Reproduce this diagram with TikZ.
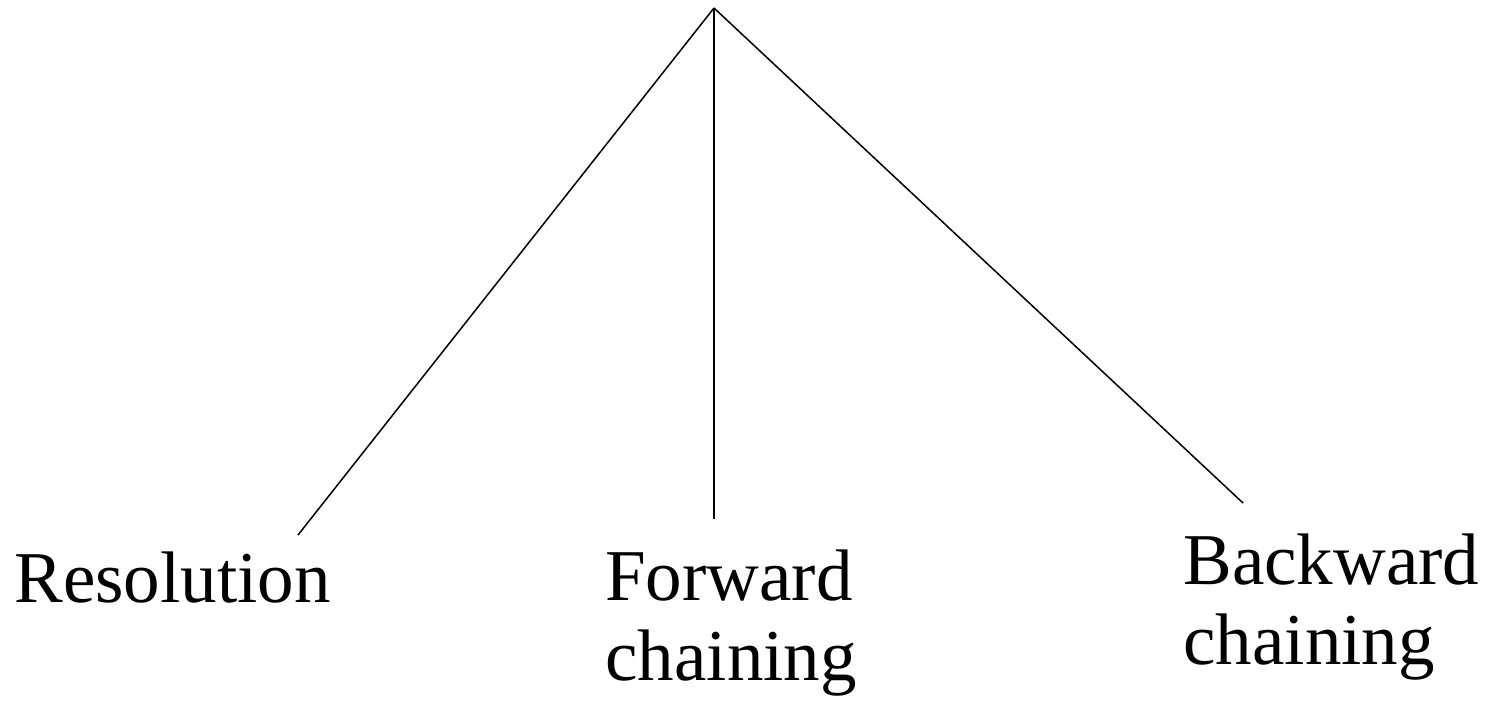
\documentclass[tikz,border=0pt]{standalone}
\usepackage{fontspec}
\setmainfont{Liberation Serif}
\tikzset{branch/.style={line width=0.75pt,black},
lab/.style={font=\fontsize{36.5}{40}\selectfont,inner sep=0pt,align=left}}
\begin{document}
\begin{tikzpicture}[x=0.5pt,y=-0.5pt]
\useasboundingbox (0,0) rectangle (1492,708);
\coordinate (top) at (714,8);
\coordinate (resend) at (298,535);
\coordinate (fwdend) at (714,519);
\coordinate (bwdend) at (1243,503);
\node[lab,anchor=base west] (res) at (14,602) {Resolution};
\node[lab,anchor=north west] (fwd) at (605,549) {Forward\\chaining};
\node[lab,anchor=north west] (bwd) at (1183,533) {Backward\\chaining};
\draw[branch] (top)--(resend);
\draw[branch] (top)--(fwdend);
\draw[branch] (top)--(bwdend);
\end{tikzpicture}
\end{document}
